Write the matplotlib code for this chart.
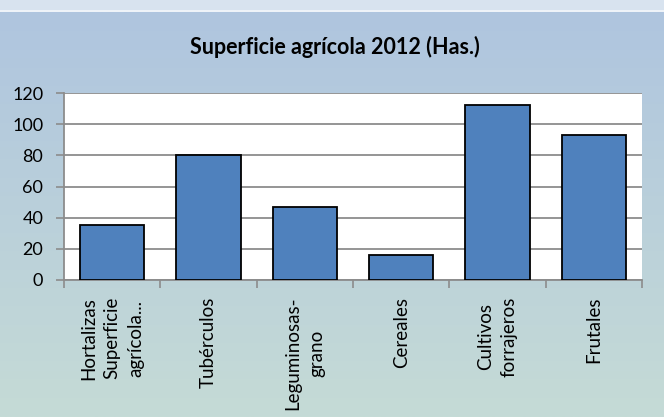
import numpy as np
import matplotlib.pyplot as plt
from matplotlib.colors import LinearSegmentedColormap

# data
categories = ["Hortalizas\nSuperficie\nagrícola...", "Tubérculos", "Leguminosas-\ngrano",
              "Cereales", "Cultivos\nforrajeros", "Frutales"]
values = [35, 80, 47, 16, 112, 93]
yticks = [0, 20, 40, 60, 80, 100, 120]

plt.rcParams['font.family'] = ['Lato', 'DejaVu Sans']

fig = plt.figure(figsize=(6.64, 4.17), dpi=100)

# background: light strip at top, then blue -> greenish gradient
bg = fig.add_axes([0, 0, 1, 1])
bg.set_xlim(0, 1)
bg.set_ylim(0, 1)
bg.axis("off")
grad = np.linspace(0, 1, 256).reshape(-1, 1)
cmap = LinearSegmentedColormap.from_list("bg", ["#c5dbd6", "#afc5df"])
bg.imshow(grad, cmap=cmap, aspect="auto", extent=[0, 1, 0, 1 - 12 / 417], origin="lower")
bg.axhspan(1 - 10 / 417, 1, color="#d8e3ef", lw=0)
bg.axhspan(1 - 12 / 417, 1 - 10 / 417, color="#eef3f8", lw=0)

# plot area (pixels: x 64..642, y 93..280)
ax = fig.add_axes([64 / 664, 1 - 280 / 417, (642 - 64) / 664, (280 - 93) / 417])
ax.set_facecolor("white")
x = np.arange(len(categories))
ax.bar(x, values, width=0.67, color="#4f81bd", edgecolor="black", linewidth=1.3, zorder=3)

ax.set_xlim(-0.5, len(categories) - 0.5)
ax.set_ylim(0, 120)
ax.set_yticks(yticks)
ax.yaxis.grid(True, color="#8c8c8c", linewidth=1.3, zorder=0)
ax.tick_params(axis="y", length=6, width=1.2, color="#8c8c8c", labelsize=13, pad=9)

# category boundaries as ticks, labels in the middle (centered lines)
ax.set_xticks(np.arange(len(categories) + 1) - 0.5)
ax.set_xticklabels([])
ax.tick_params(axis="x", which="major", length=6, width=1.2, color="#8c8c8c")
for xi, lab in zip(x, categories):
    ax.annotate(lab, xy=(xi, 0), xycoords=("data", "axes fraction"), xytext=(0, -12),
                textcoords="offset points", rotation=90, ha="center", va="top",
                multialignment="center", fontsize=13.5, linespacing=1.45)

for side in ["left", "bottom"]:
    ax.spines[side].set_color("#8c8c8c")
    ax.spines[side].set_linewidth(1.3)
ax.spines["right"].set_visible(False)
ax.spines["top"].set_visible(False)

fig.text(335 / 664, 1 - 47 / 417, "Superficie agrícola 2012 (Has.)", ha="center", va="center",
         fontsize=15.5, fontweight="bold")

fig.savefig("out.png", dpi=100)
